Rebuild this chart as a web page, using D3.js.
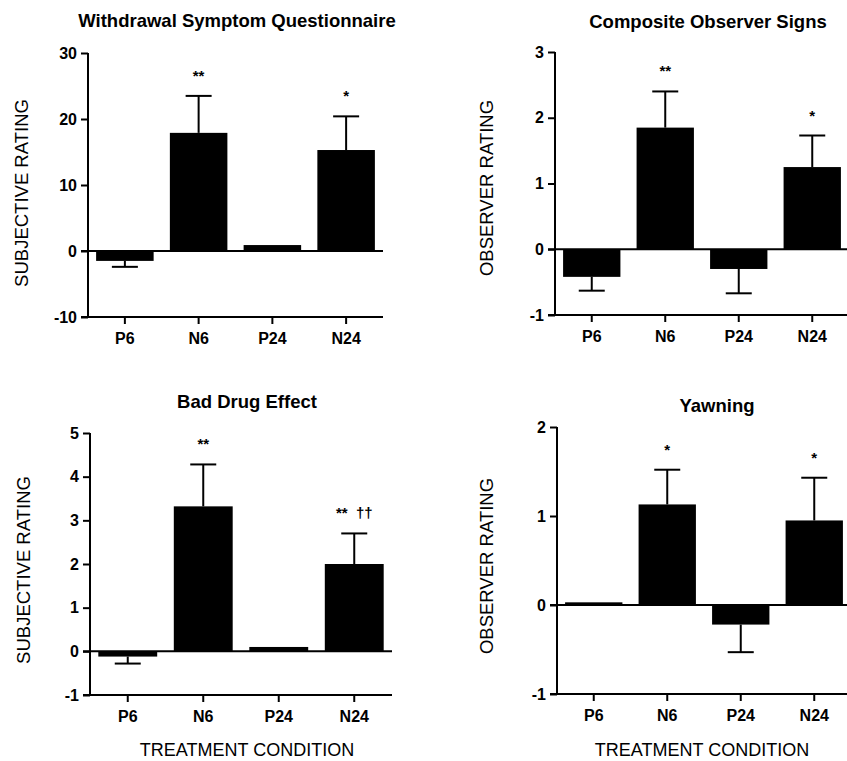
<!DOCTYPE html>
<html>
<head>
<meta charset="utf-8">
<script src="https://cdn.jsdelivr.net/npm/d3@7"></script>
<style>
  body { margin: 0; background: #fff; }
  svg { display: block; }
  text { font-family: "Liberation Sans", Arial, Helvetica, sans-serif; fill: #000; }
</style>
</head>
<body>
<div id="chart"></div>
<script>
const categories = ["P6", "N6", "P24", "N24"];

const titles = ["Withdrawal Symptom Questionnaire", "Composite Observer Signs", "Bad Drug Effect", "Yawning"];
const yLabels = ["SUBJECTIVE RATING", "OBSERVER RATING", "SUBJECTIVE RATING", "OBSERVER RATING"];

const wsqMeans = [-1.5, 17.9, 0.9, 15.3];
const wsqErrors = [0.9, 5.6, 0, 5.1];
const wsqStars = ["", "**", "", "*"];
const wsqTicks = [-10, 0, 10, 20, 30];

const cosMeans = [-0.42, 1.85, -0.3, 1.25];
const cosErrors = [0.21, 0.55, 0.37, 0.48];
const cosStars = ["", "**", "", "*"];
const cosTicks = [-1, 0, 1, 2, 3];

const bdeMeans = [-0.12, 3.32, 0.1, 2.0];
const bdeErrors = [0.16, 0.96, 0, 0.7];
const bdeStars = ["", "**", "", "**  ††"];
const bdeTicks = [-1, 0, 1, 2, 3, 4, 5];

const yawMeans = [0.03, 1.13, -0.22, 0.95];
const yawErrors = [0, 0.39, 0.31, 0.48];
const yawStars = ["", "*", "", "*"];
const yawTicks = [-1, 0, 1, 2];

const panels = [
  { means: wsqMeans, errors: wsqErrors, stars: wsqStars, ticks: wsqTicks,
    x: [88, 383], y: [317, 53], title: [237, 27], ylab: [28, 193], xlab: null },
  { means: cosMeans, errors: cosErrors, stars: cosStars, ticks: cosTicks,
    x: [555, 849], y: [315, 52], title: [708, 28], ylab: [493, 188], xlab: null },
  { means: bdeMeans, errors: bdeErrors, stars: bdeStars, ticks: bdeTicks,
    x: [90, 392], y: [695, 433], title: [247, 408], ylab: [30, 570], xlab: [247, 756] },
  { means: yawMeans, errors: yawErrors, stars: yawStars, ticks: yawTicks,
    x: [557, 851], y: [694, 427], title: [717, 412], ylab: [493, 566], xlab: [702, 756] }
];

const svg = d3.select("#chart").append("svg")
  .attr("width", 847)
  .attr("height", 761);

panels.forEach((p, i) => {
  const g = svg.append("g");

  const x = d3.scaleBand()
    .domain(categories)
    .range(p.x)
    .paddingInner(0.22)
    .paddingOuter(0.11);

  const y = d3.scaleLinear()
    .domain(d3.extent(p.ticks))
    .range(p.y);

  // bars
  g.selectAll("rect.bar")
    .data(p.means)
    .enter()
    .append("rect")
    .attr("class", "bar")
    .attr("x", (d, j) => x(categories[j]))
    .attr("width", x.bandwidth())
    .attr("y", d => Math.min(y(d), y(0)))
    .attr("height", d => Math.abs(y(d) - y(0)))
    .attr("fill", "#000");

  // error bars, only away from zero
  const errData = p.means.map((m, j) => ({ m, e: p.errors[j], c: categories[j] }))
    .filter(d => d.e > 0);
  const tip = d => d.m >= 0 ? d.m + d.e : d.m - d.e;
  const cx = d => x(d.c) + x.bandwidth() / 2;

  g.selectAll("line.stem")
    .data(errData)
    .enter()
    .append("line")
    .attr("x1", cx).attr("x2", cx)
    .attr("y1", d => y(d.m)).attr("y2", d => y(tip(d)))
    .attr("stroke", "#000").attr("stroke-width", 2);

  g.selectAll("line.cap")
    .data(errData)
    .enter()
    .append("line")
    .attr("x1", d => cx(d) - 13).attr("x2", d => cx(d) + 13)
    .attr("y1", d => y(tip(d))).attr("y2", d => y(tip(d)))
    .attr("stroke", "#000").attr("stroke-width", 2);

  // significance marks
  g.selectAll("text.star")
    .data(p.means.map((m, j) => ({ m, e: p.errors[j], c: categories[j], s: p.stars[j] })).filter(d => d.s))
    .enter()
    .append("text")
    .attr("x", d => cx(d))
    .attr("y", d => y(d.m + d.e) - 15)
    .attr("text-anchor", "middle")
    .style("font-size", "15px")
    .style("font-weight", "bold")
    .style("white-space", "pre")
    .text(d => d.s);

  // zero line
  g.append("line")
    .attr("x1", p.x[0] - 7).attr("x2", p.x[1])
    .attr("y1", y(0)).attr("y2", y(0))
    .attr("stroke", "#000").attr("stroke-width", 2);

  // axes
  const yAxis = g.append("g")
    .attr("transform", `translate(${p.x[0]},0)`)
    .call(d3.axisLeft(y).tickValues(p.ticks).tickSize(7).tickPadding(4).tickFormat(d => String(d)));

  const xAxis = g.append("g")
    .attr("transform", `translate(0,${p.y[0]})`)
    .call(d3.axisBottom(x).tickSize(7).tickPadding(9));

  [yAxis, xAxis].forEach(a => {
    a.select(".domain").attr("stroke", "#000").attr("stroke-width", 2);
    a.selectAll(".tick line").attr("stroke", "#000").attr("stroke-width", 2);
    a.selectAll(".tick text")
      .style("font-size", "16px")
      .style("font-weight", "bold")
      .attr("fill", "#000");
  });
  yAxis.select(".domain").attr("d", `M0,${p.y[0]}V${p.y[1]}`);
  xAxis.select(".domain").attr("d", `M${p.x[0] - 7},0H${p.x[1]}`);

  // title
  g.append("text")
    .attr("x", p.title[0])
    .attr("y", p.title[1])
    .attr("text-anchor", "middle")
    .style("font-size", "18.5px")
    .style("font-weight", "bold")
    .text(titles[i]);

  // y label
  g.append("text")
    .attr("transform", `translate(${p.ylab[0]},${p.ylab[1]}) rotate(-90)`)
    .attr("text-anchor", "middle")
    .style("font-size", "18.5px")
    .text(yLabels[i]);

  if (p.xlab) {
    g.append("text")
      .attr("x", p.xlab[0])
      .attr("y", p.xlab[1])
      .attr("text-anchor", "middle")
      .style("font-size", "18px")
      .text("TREATMENT CONDITION");
  }
});
</script>
</body>
</html>
